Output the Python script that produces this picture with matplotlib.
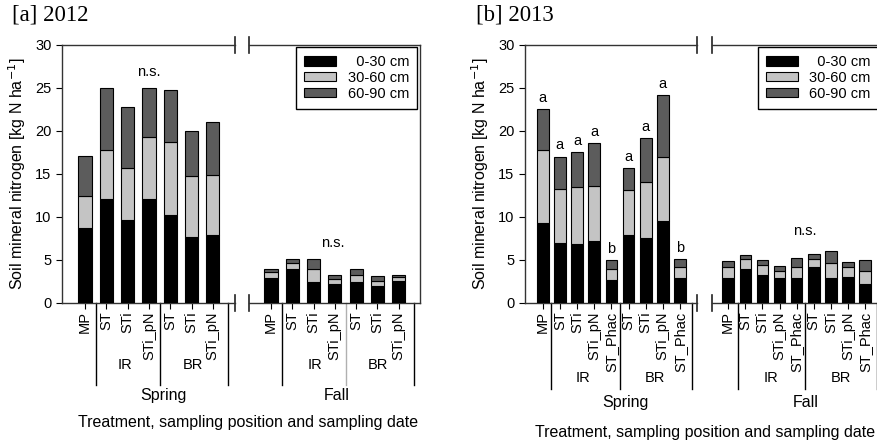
import matplotlib
matplotlib.use('Agg')
import matplotlib.pyplot as plt
from matplotlib.patches import Patch
from matplotlib.transforms import blended_transform_factory

plt.rcParams['font.family'] = ['Liberation Sans', 'DejaVu Sans']

# ---------------- data (kg N / ha per soil layer) ----------------
layers = ['  0-30 cm', '30-60 cm', '60-90 cm']
layer_colors = ['#000000', '#c4c4c4', '#5c5c5c']

labels_2012 = ['MP', 'ST', 'STi', 'STi_pN', 'ST', 'STi', 'STi_pN']
spring_2012_l1 = [8.7, 12.1, 9.6, 12.1, 10.2, 7.7, 7.9]
spring_2012_l2 = [3.7, 5.7, 6.1, 7.2, 8.5, 7.0, 7.0]
spring_2012_l3 = [4.7, 7.2, 7.1, 5.7, 6.0, 5.3, 6.1]
fall_2012_l1 = [2.85, 4.0, 2.45, 2.15, 2.45, 2.0, 2.6]
fall_2012_l2 = [0.7, 0.7, 1.5, 0.65, 0.85, 0.6, 0.4]
fall_2012_l3 = [0.45, 0.4, 1.15, 0.45, 0.7, 0.5, 0.3]

labels_2013 = ['MP', 'ST', 'STi', 'STi_pN', 'ST_Phac', 'ST', 'STi', 'STi_pN', 'ST_Phac']
spring_2013_l1 = [9.3, 7.0, 6.8, 7.2, 2.7, 7.9, 7.5, 9.5, 2.9]
spring_2013_l2 = [8.5, 6.2, 6.7, 6.4, 1.3, 5.2, 6.6, 7.5, 1.3]
spring_2013_l3 = [4.7, 3.8, 4.0, 5.0, 1.0, 2.6, 5.0, 7.1, 0.9]
fall_2013_l1 = [2.9, 4.0, 3.3, 2.9, 2.9, 4.2, 2.85, 3.05, 2.15]
fall_2013_l2 = [1.25, 1.1, 1.1, 0.85, 1.3, 0.85, 1.85, 1.1, 1.55]
fall_2013_l3 = [0.75, 0.5, 0.6, 0.55, 1.0, 0.65, 1.3, 0.65, 1.3]
letters_spring_2013 = ['a', 'a', 'a', 'a', 'b', 'a', 'a', 'a', 'b']

W, H = 878, 443
Y_TOP, Y_BOT = 44.5, 303.0   # pixel rows of y=30 and y=0


def px_axes(fig, x0, x1):
    return fig.add_axes([x0 / W, 1 - Y_BOT / H, (x1 - x0) / W, (Y_BOT - Y_TOP) / H])


def stacked(ax, l1, l2, l3, width):
    x = list(range(len(l1)))
    b2 = [a for a in l1]
    b3 = [a + b for a, b in zip(l1, l2)]
    for vals, bottom, col in zip([l1, l2, l3], [None, b2, b3], layer_colors):
        ax.bar(x, vals, width, bottom=bottom, color=col, edgecolor='black', linewidth=0.8, zorder=3)
    return [a + b + c for a, b, c in zip(l1, l2, l3)]


def style(ax, labels, xlim, side):
    ax.set_xlim(*xlim)
    ax.set_ylim(0, 30)
    ax.set_xticks(range(len(labels)))
    ax.set_xticklabels(labels, rotation=90, fontsize=10.5)
    ax.tick_params(axis='x', direction='out', length=4, width=0.8, pad=2)
    for s in ax.spines.values():
        s.set_linewidth(1.0)
        s.set_color('#333333')
    if side == 'left':
        ax.spines['right'].set_visible(False)
        ax.set_yticks(range(0, 31, 5))
        ax.tick_params(axis='y', direction='out', length=4, width=0.8, labelsize=10.5)
    else:
        ax.spines['left'].set_visible(False)
        ax.tick_params(axis='y', left=False, labelleft=False)
    # break marks
    d = 8.0 / (Y_BOT - Y_TOP)
    xb = 1 if side == 'left' else 0
    for yb in (0, 1):
        ax.plot([xb, xb], [yb - d, yb + d], color='#222222', lw=1.2,
                transform=ax.transAxes, clip_on=False)


def groups(ax, seps, gray_sep, line_y, sub, sub_y, season, season_pos, season_y):
    tr = blended_transform_factory(ax.transData, ax.transAxes)
    for s in seps:
        col = '#b0b0b0' if s == gray_sep else 'black'
        ax.plot([s, s], [0, line_y], color=col, lw=1.0, transform=tr, clip_on=False)
    for name, xp in sub:
        ax.text(xp, sub_y, name, transform=tr, ha='center', va='center', fontsize=10.5)
    ax.text(season_pos, season_y, season, transform=tr, ha='center', va='center', fontsize=11.5)


def legend(ax, right_px):
    handles = [Patch(facecolor=c, edgecolor='black', linewidth=0.8) for c in layer_colors]
    bb = ax.get_position()
    ax_w = bb.width * W
    leg = ax.legend(handles, layers, loc='upper right', fontsize=10.5,
                    bbox_to_anchor=(1 - right_px / ax_w, 1 - 2.5 / (Y_BOT - Y_TOP)),
                    borderaxespad=0, fancybox=False, framealpha=1, edgecolor='black',
                    handlelength=2.2, handleheight=0.6, labelspacing=0.12,
                    handletextpad=0.8, borderpad=0.55)
    leg.get_frame().set_linewidth(1.0)


fig = plt.figure(figsize=(W / 100, H / 100), dpi=100)

# ---------------- [a] 2012 ----------------
ax1 = px_axes(fig, 62, 235)
ax2 = px_axes(fig, 249, 420)
stacked(ax1, spring_2012_l1, spring_2012_l2, spring_2012_l3, 0.62)
stacked(ax2, fall_2012_l1, fall_2012_l2, fall_2012_l3, 0.62)
style(ax1, labels_2012, (-1.08, 7.04), 'left')
style(ax2, labels_2012, (-1.03, 7.0), 'right')
ax1.text(3.0, 26.8, 'n.s.', ha='center', va='center', fontsize=10.5)
ax2.text(2.9, 7.0, 'n.s.', ha='center', va='center', fontsize=10.5)
groups(ax1, [0.52, 3.52, 6.7], None, -0.317, [('IR', 1.88), ('BR', 5.07)], -0.24,
       'Spring', 3.66, -0.356)
groups(ax2, [0.52, 3.52, 6.7], 3.52, -0.317, [('IR', 2.07), ('BR', 5.03)], -0.24,
       'Fall', 3.1, -0.356)
legend(ax2, 2.5)
ax1.set_ylabel('Soil mineral nitrogen [kg N ha$^{-1}$]', fontsize=11.5, labelpad=5)
fig.text(12 / W, 1 - 15 / H, '[a] 2012', family='Liberation Serif', fontsize=16.5,
         ha='left', va='center')
fig.text(248 / W, 1 - 423 / H, 'Treatment, sampling position and sampling date',
         fontsize=11.5, ha='center', va='center')

# ---------------- [b] 2013 ----------------
ax3 = px_axes(fig, 525, 697)
ax4 = px_axes(fig, 712, 882)
stacked(ax3, spring_2013_l1, spring_2013_l2, spring_2013_l3, 0.68)
stacked(ax4, fall_2013_l1, fall_2013_l2, fall_2013_l3, 0.68)
style(ax3, labels_2013, (-1.03, 8.99), 'left')
style(ax4, labels_2013, (-0.95, 8.99), 'right')
tops = [a + b + c for a, b, c in zip(spring_2013_l1, spring_2013_l2, spring_2013_l3)]
for i, (t, lt) in enumerate(zip(tops, letters_spring_2013)):
    ax3.text(i, t + 1.3, lt, ha='center', va='center', fontsize=10.5)
ax4.text(4.5, 8.4, 'n.s.', ha='center', va='center', fontsize=10.5)
groups(ax3, [0.48, 4.5, 8.7], None, -0.333, [('IR', 2.35), ('BR', 6.55)], -0.29,
       'Spring', 4.8, -0.383)
groups(ax4, [0.55, 4.5, 8.7], None, -0.333, [('IR', 2.5), ('BR', 6.6)], -0.29,
       'Fall', 4.54, -0.383)
legend(ax4, 3)
ax3.set_ylabel('Soil mineral nitrogen [kg N ha$^{-1}$]', fontsize=11.5, labelpad=5)
fig.text(476 / W, 1 - 15 / H, '[b] 2013', family='Liberation Serif', fontsize=16.5,
         ha='left', va='center')
fig.text(705 / W, 1 - 432 / H, 'Treatment, sampling position and sampling date',
         fontsize=11.5, ha='center', va='center')

fig.savefig('out.png', dpi=100)
